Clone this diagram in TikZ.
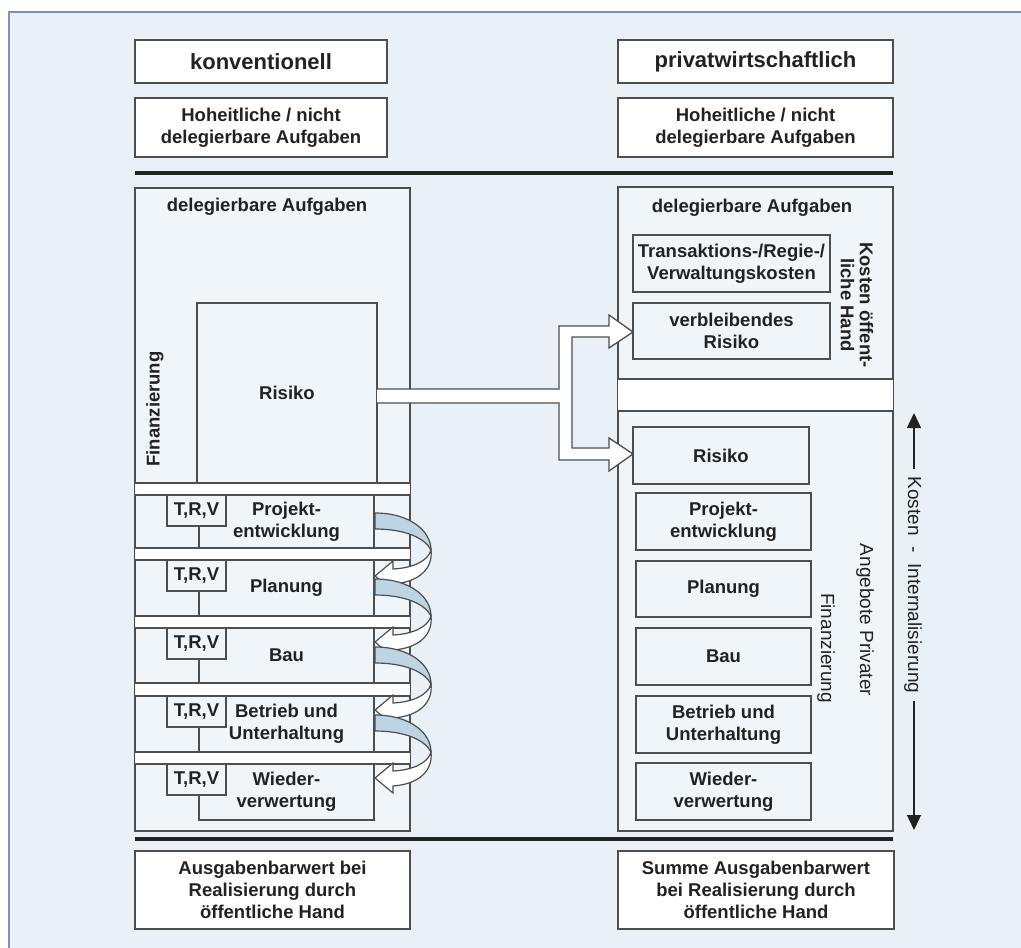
\documentclass[tikz,border=0pt]{standalone}
\usepackage{fontspec}
\setmainfont{Liberation Sans}
\usetikzlibrary{arrows.meta}
\definecolor{panel}{RGB}{234,241,246}
\definecolor{pborder}{RGB}{128,142,196}
\definecolor{bf}{RGB}{240,245,250}
\definecolor{lc}{RGB}{78,78,78}
\definecolor{tc}{RGB}{34,34,34}
\definecolor{rib}{RGB}{188,212,228}
\newcommand\labfont{\fontsize{18.5}{22}\selectfont\bfseries}
\newcommand\titfont{\fontsize{22}{26}\selectfont\bfseries}
\newcommand\regfont{\fontsize{19}{22}\selectfont}
\newcommand\spiralarrow[1]{%
  \begin{scope}[shift={(375,#1)}]
    \filldraw[fill=rib, draw=lc, line width=1.2pt] (0,0) .. controls (35,0) and (56,18) .. (56,37)
      .. controls (50,25) and (30,16) .. (0,16) -- cycle;
    \filldraw[fill=white, draw=lc, line width=1.2pt] (56,37) .. controls (53,48) and (38,55) .. (18,56)
      -- (18,48) -- (0,63) -- (18,78) -- (18,71) .. controls (45,69) and (58,55) .. (56,37) -- cycle;
  \end{scope}}
\begin{document}
\begin{tikzpicture}[x=1pt,y=-1pt,
  bx/.style={draw=lc, line width=1.5pt, fill=bf, inner sep=0pt, align=center, font=\labfont, text=tc},
  wbx/.style={bx, fill=white},
  lbl/.style={inner sep=0pt, align=center, font=\labfont, text=tc},
  band/.style={fill=white},
  bandline/.style={draw=lc, line width=1.5pt},
  thick sep/.style={draw=tc, line width=4pt},
  trv/.style={bx, minimum width=59pt, minimum height=31pt},
  stage/.style={bx, minimum width=175pt},
  rstage/.style={bx, minimum width=175pt, minimum height=57pt}]
\useasboundingbox (0,0) rectangle (1021,948);
\fill[white] (0,0) rectangle (1021,948);
\fill[panel] (9,12) rectangle (1021,948);
\draw[pborder, line width=1.5pt] (9,948) -- (9,12) -- (1021,12);

% top headings
\node[wbx, font=\titfont, minimum width=252pt, minimum height=43pt] (konv) at (261,61.5) {konventionell};
\node[wbx, font=\titfont, minimum width=275pt, minimum height=43pt] (priv) at (755.5,61.5) {privatwirtschaftlich};
\node[wbx, minimum width=252pt, minimum height=59pt] (hohL) at (261,127.5) {Hoheitliche / nicht\\delegierbare Aufgaben};
\node[wbx, minimum width=275pt, minimum height=59pt] (hohR) at (755.5,127.5) {Hoheitliche / nicht\\delegierbare Aufgaben};
\coordinate (tl1) at (135,173); \coordinate (tl2) at (893,173);
\draw[thick sep] (tl1) -- (tl2);

% left column
\node[bx, minimum width=275pt, minimum height=643pt] (lbig) at (272.5,509.5) {};
\node[lbl] (ldel) at (267,207) {delegierbare Aufgaben};
\node[lbl, rotate=90] (lfin) at (155,409) {Finanzierung};
\node[bx, minimum width=180pt, minimum height=180pt] (risL) at (287,393) {Risiko};

% white bands
\foreach \a/\b in {483/495, 548/560, 616/628, 683/696, 752/764}{
  \fill[band] (135,\a) rectangle (410,\b);
  \draw[bandline] (135,\a) -- (410,\a) (135,\b) -- (410,\b);
}

% stages
\node[stage, minimum height=53pt] (s1) at (286.5,521.5) {Projekt-\\entwicklung};
\node[stage, minimum height=56pt] (s2) at (286.5,588) {Planung};
\node[stage, minimum height=55pt] (s3) at (286.5,655.5) {Bau};
\node[stage, minimum height=56pt] (s4) at (286.5,724) {Betrieb und\\Unterhaltung};
\node[stage, minimum height=56pt] (s5) at (286.5,792) {Wieder-\\verwertung};
\node[trv] (t1) at (196.5,510.5) {T,R,V};
\node[trv] (t2) at (196.5,575.5) {T,R,V};
\node[trv] (t3) at (196.5,643.5) {T,R,V};
\node[trv] (t4) at (196.5,711.5) {T,R,V};
\node[trv] (t5) at (196.5,779.5) {T,R,V};

% spiral arrows
\spiralarrow{513}
\spiralarrow{579}
\spiralarrow{647}
\spiralarrow{715}

% right column
\node[bx, minimum width=275pt, minimum height=644pt] (rbig) at (755.5,509) {};
\fill[band] (618,379) rectangle (893,411);
\draw[bandline] (618,379) -- (893,379) (618,411) -- (893,411);
\node[lbl] (rdel) at (752,208) {delegierbare Aufgaben};
\node[bx, minimum width=197pt, minimum height=57pt] (trans) at (731.5,263.5) {Transaktions-/Regie-/\\Verwaltungskosten};
\node[bx, minimum width=197pt, minimum height=56pt] (verb) at (731.5,331) {verbleibendes\\Risiko};
\node[lbl, rotate=-90, font=\fontsize{18.5}{19}\selectfont\bfseries] (koh) at (857,305) {Kosten \"offent-\\liche Hand};
\node[rstage, minimum width=176pt] (risR) at (721,455.5) {Risiko};
\node[rstage] (proj) at (723.5,521.5) {Projekt-\\entwicklung};
\node[rstage, minimum height=56pt] (plan) at (723.5,589) {Planung};
\node[rstage] (bau) at (723.5,656.5) {Bau};
\node[rstage] (betr) at (723.5,724.5) {Betrieb und\\Unterhaltung};
\node[rstage] (wied) at (723.5,791.5) {Wieder-\\verwertung};
\node[lbl, rotate=-90, font=\regfont] (angp) at (865,620) {Angebote Privater};
\node[lbl, rotate=-90, font=\regfont] (rfin) at (826,648) {Finanzierung};

% fork arrow from Risiko
\filldraw[fill=white, draw=lc, line width=1.3pt]
  (377,389) -- (559,389) -- (559,326) -- (609,326) -- (609,315) -- (633,332) -- (609,348) -- (609,337)
  -- (572,337) -- (572,448) -- (609,448) -- (609,438) -- (633,454) -- (609,471) -- (609,460)
  -- (559,460) -- (559,403) -- (377,403);

% cost arrow
\coordinate (ktop) at (914,413);
\coordinate (kbot) at (914,830);
\draw[tc, line width=1.3pt, {Triangle[width=14pt,length=15pt]}-{Triangle[width=14pt,length=15pt]}] (ktop) -- (kbot);
\node[lbl, rotate=-90, font=\regfont, fill=panel, inner xsep=8pt, inner ysep=3pt] (kint) at (913,585) {Kosten\ \ -\ \ Internalisierung};

% bottom
\coordinate (bl1) at (135,839); \coordinate (bl2) at (893,839);
\draw[thick sep] (bl1) -- (bl2);
\node[wbx, minimum width=275pt, minimum height=78pt] (botL) at (272.5,890) {Ausgabenbarwert bei\\Realisierung durch\\\"offentliche Hand};
\node[wbx, minimum width=276pt, minimum height=78pt] (botR) at (756,890) {Summe Ausgabenbarwert\\bei Realisierung durch\\\"offentliche Hand};
\end{tikzpicture}
\end{document}
